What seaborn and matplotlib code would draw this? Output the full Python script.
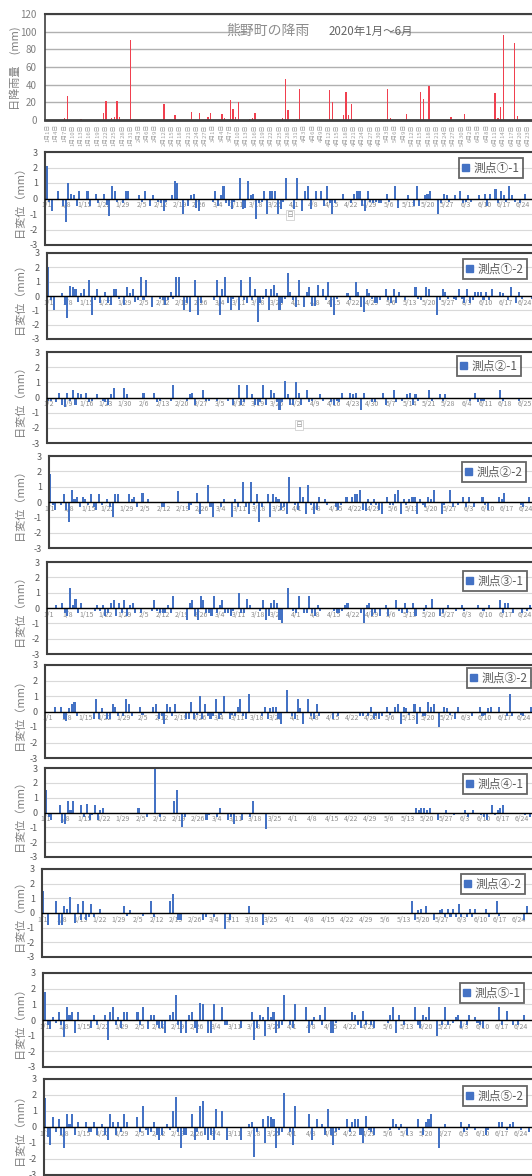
import matplotlib
matplotlib.use('Agg')
import matplotlib.pyplot as plt
import matplotlib.patches as mpatches
from matplotlib.ticker import MultipleLocator
import seaborn as sns
import pandas as pd
import numpy as np

sns.set_style('white')
plt.rcParams['font.family'] = ['Noto Sans CJK JP', 'DejaVu Sans']
plt.rcParams['axes.unicode_minus'] = False

W, H = 532, 1176
N_DAYS = 182

# daily rainfall (day index from 1/1, mm)
rain = [(6, 2), (7, 27), (12, 1), (20, 8), (21, 22), (23, 2), (24, 3), (25, 22), (26, 3),
        (30, 91), (42, 18), (46, 6), (52, 9), (55, 8), (58, 3), (59, 8), (63, 7), (64, 2),
        (66, 23), (67, 13), (68, 3), (69, 20), (73, 1), (74, 2), (75, 8), (85, 2), (86, 46),
        (87, 11), (90, 1), (91, 35), (102, 34), (103, 20), (107, 6), (108, 32), (109, 6),
        (110, 18), (123, 35), (124, 2), (130, 7), (135, 32), (136, 24), (138, 38), (146, 3),
        (151, 7), (162, 31), (163, 2), (164, 15), (165, 96), (169, 87), (170, 4), (176, 11)]

# daily displacement per gauge (day index, mm)
p1_1 = [(0,2.1),(1,-0.2),(2,-0.8),(4,0.5),(6,-0.5),(7,-1.5),(8,1.0),(9,0.3),(10,0.2),(11,-0.5),(12,0.5),
        (15,0.5),(16,-0.5),(18,0.3),(19,-0.3),(21,0.3),(22,-0.4),(23,-1.1),(24,0.8),(25,0.5),(26,-0.2),
        (28,-0.3),(29,0.5),(30,0.5),(32,-0.1),(34,0.2),(35,-0.2),(36,0.5),(38,-0.5),(39,0.2),(41,-0.2),
        (42,-0.3),(43,-0.8),(44,-0.2),(46,0.2),(47,1.1),(48,1.0),(50,-1.0),(52,-0.5),(53,0.2),(54,0.3),
        (55,-0.6),(56,-0.8),(61,-0.2),(62,0.5),(63,-0.5),(64,0.2),(65,0.8),(66,-0.3),(67,-0.5),(68,-0.7),
        (69,-0.2),(71,1.3),(72,-0.7),(73,-0.6),(74,1.1),(75,0.2),(76,0.3),(77,-1.3),(78,-0.3),(79,-0.2),
        (80,0.5),(81,-1.0),(82,0.5),(83,0.5),(84,0.5),(85,-1.0),(86,-0.7),(87,-0.2),(88,1.3),(91,-0.7),
        (92,1.3),(94,-0.8),(95,0.5),(96,0.8),(97,-0.7),(99,0.5),(101,0.5),(102,-0.5),(103,0.8),(104,-0.3),
        (105,-1.0),(106,-0.3),(109,0.3),(112,-0.3),(113,0.3),(114,0.5),(115,0.5),(116,-0.5),(117,-0.8),
        (118,0.5),(119,-0.2),(120,-0.3),(121,-0.2),(122,-0.3),(123,-0.3),(125,0.3),(126,-0.2),(128,0.8),
        (129,-0.6),(132,-0.1),(133,0.2),(135,-0.5),(136,0.8),(137,-0.5),(139,0.2),(140,0.3),(141,0.5),
        (144,-1.0),(145,-0.3),(146,0.3),(147,0.2),(148,-0.2),(150,0.2),(151,-0.1),(152,0.5),(153,-0.3),
        (154,-0.2),(155,0.2),(156,-0.2),(159,0.2),(161,0.3),(162,-0.5),(163,0.3),(165,0.6),(166,-0.3),
        (167,0.5),(168,0.2),(169,-0.2),(170,0.8),(171,0.2),(172,-0.2),(174,-0.3),(176,0.3)]

p1_2 = [(0,2.0),(1,-0.3),(2,-1.0),(5,0.2),(6,-0.6),(7,-1.5),(8,0.7),(9,0.6),(10,0.5),(11,-0.4),(12,0.2),
        (13,0.5),(15,1.1),(16,-1.3),(17,-0.3),(18,0.5),(19,-0.5),(21,0.3),(22,-0.5),(23,-0.6),(24,0.5),
        (25,0.5),(26,-0.2),(28,-0.6),(29,0.6),(30,0.2),(31,0.5),(32,-0.4),(33,-0.3),(34,1.3),(35,-0.3),
        (36,1.1),(38,-0.8),(41,-0.2),(42,-0.3),(43,-0.6),(44,-0.3),(45,0.3),(46,-0.2),(47,1.3),(48,1.3),
        (50,-1.0),(51,-0.5),(52,-1.1),(54,1.1),(55,-1.3),(56,-0.5),(61,-0.3),(62,1.1),(63,-1.3),(64,0.5),
        (65,1.3),(66,-0.5),(67,-1.0),(68,-0.2),(70,-1.0),(71,1.1),(72,-0.3),(73,-0.5),(74,1.3),(75,-0.3),
        (76,0.5),(77,-1.8),(78,-0.5),(79,-0.2),(80,0.5),(81,-1.0),(82,0.5),(83,0.8),(84,0.2),(85,-1.0),
        (86,-0.5),(87,-0.2),(88,1.6),(89,0.3),(90,-0.3),(91,-0.8),(92,1.1),(94,-0.8),(95,0.3),(96,0.6),
        (97,-0.7),(98,-0.7),(99,0.8),(101,0.5),(102,-0.3),(103,1.0),(104,-0.8),(105,-1.3),(106,-0.2),
        (110,0.2),(111,-0.3),(113,1.0),(114,0.3),(115,-0.8),(116,-1.1),(117,0.5),(118,0.2),(119,-0.2),
        (120,-0.5),(121,-0.5),(122,-0.3),(124,0.5),(125,-0.3),(126,-0.5),(127,0.5),(128,-0.5),(129,0.3),
        (131,-0.3),(135,0.6),(136,-0.2),(137,-0.3),(139,0.6),(140,0.5),(143,-1.3),(144,-0.3),(145,0.5),
        (146,0.3),(147,-0.2),(149,-0.2),(150,-0.3),(151,0.5),(152,-0.2),(153,-0.5),(154,0.5),(155,-0.5),
        (156,-0.3),(157,0.3),(158,0.3),(159,0.3),(160,-0.3),(161,0.3),(162,-0.3),(163,0.5),(166,0.3),
        (167,0.2),(169,-0.3),(170,0.6),(172,-0.5),(173,0.3),(174,-0.2),(178,-0.2)]

p2_1 = [(0,-0.2),(1,-0.2),(3,-0.3),(4,0.3),(5,-0.5),(6,-0.6),(7,0.3),(8,-0.2),(9,0.5),(10,-0.5),(11,0.3),
        (12,0.2),(14,0.3),(15,-0.3),(16,-0.2),(18,0.2),(20,-0.2),(21,-0.3),(22,-0.5),(23,0.2),(24,0.6),
        (28,0.6),(29,0.2),(35,0.3),(39,0.3),(40,-0.3),(41,-0.2),(45,-0.2),(46,0.8),(51,-0.2),(52,0.2),
        (53,0.3),(54,-0.5),(57,0.5),(58,-0.2),(59,-0.2),(62,-0.2),(66,-0.2),(68,-0.5),(70,0.8),(71,-0.5),
        (72,-0.3),(73,0.8),(75,0.2),(76,-0.5),(77,-0.5),(78,-0.3),(79,0.8),(80,-0.5),(82,0.5),(83,0.3),
        (84,-0.3),(85,-0.8),(86,-0.3),(87,1.1),(88,0.2),(89,-0.5),(90,-0.5),(91,1.0),(92,0.3),(93,-0.5),
        (95,0.5),(96,-0.3),(97,-0.2),(100,0.2),(101,-0.2),(104,-0.3),(105,-0.5),(106,-0.2),(107,-0.3),
        (108,0.3),(111,0.3),(112,0.2),(113,0.3),(115,-0.8),(116,0.3),(119,-0.3),(120,-0.3),(123,0.3),
        (124,-0.5),(127,0.5),(128,-0.3),(130,-0.2),(132,0.2),(133,0.3),(134,-0.5),(135,0.2),(136,-0.2),
        (140,0.5),(141,-0.2),(144,0.2),(145,-0.2),(146,0.2),(155,-0.2),(157,0.3),(158,-0.3),(159,-0.2),
        (160,-0.2),(166,0.5),(167,-0.2),(173,-0.2)]

p2_2 = [(0,1.8),(1,-0.2),(2,-0.5),(4,-0.2),(5,0.5),(6,-0.5),(7,-1.3),(8,0.8),(9,0.2),(10,0.3),(11,-0.3),
        (12,0.3),(13,0.2),(14,-0.2),(15,0.5),(16,-0.3),(17,-0.5),(18,0.5),(19,-0.2),(21,0.2),(22,-0.3),
        (23,-1.0),(24,0.5),(25,0.5),(29,0.5),(30,0.2),(31,0.3),(32,-0.3),(34,0.6),(36,0.2),(41,-0.3),
        (42,-0.3),(47,0.7),(51,-0.5),(52,-0.2),(54,0.6),(55,-0.8),(58,1.1),(59,-0.3),(60,-1.0),(63,-0.3),
        (64,0.2),(67,-1.0),(68,0.2),(69,-0.3),(71,1.3),(72,-0.3),(73,-0.8),(74,1.3),(75,-0.2),(76,0.5),
        (77,-1.3),(78,-0.3),(80,0.5),(81,-1.0),(82,0.5),(83,0.3),(84,0.2),(85,-0.5),(86,-0.3),(87,-0.8),
        (88,1.6),(90,-0.2),(91,-0.5),(92,1.0),(93,0.3),(94,-0.8),(95,1.1),(96,-0.2),(97,-0.8),(98,-0.5),
        (99,0.3),(101,0.2),(102,-0.2),(105,-0.3),(106,-0.5),(107,-0.2),(109,0.3),(111,0.3),(112,0.5),
        (113,0.5),(114,0.8),(115,-0.5),(116,-0.6),(117,0.2),(118,-0.2),(119,0.2),(120,-0.2),(121,-0.5),
        (122,-0.8),(124,0.3),(125,-0.2),(126,-0.2),(127,0.5),(128,0.8),(129,-0.8),(130,0.2),(131,-0.2),
        (132,0.2),(133,0.3),(134,0.3),(135,-0.8),(136,0.2),(137,-0.2),(138,-0.3),(139,0.3),(140,0.2),
        (141,0.8),(144,-0.8),(145,-0.2),(147,0.8),(148,-0.3),(150,-0.2),(152,0.3),(153,-0.3),(154,0.3),
        (156,-0.3),(159,0.3),(160,-0.2),(161,-0.5),(165,0.3),(166,0.2),(167,0.6),(173,-0.2),(174,-0.3),
        (176,0.3)]

p3_1 = [(3,0.2),(5,0.3),(6,-0.3),(7,-0.5),(8,1.3),(9,0.2),(10,0.6),(11,-0.3),(12,0.3),(17,-0.2),(18,0.2),
        (19,-0.2),(20,0.2),(21,-0.5),(22,-0.3),(23,0.3),(24,0.5),(25,-0.5),(26,0.3),(27,-0.3),(28,0.5),
        (29,-0.5),(30,0.2),(31,0.3),(32,-0.3),(34,-0.3),(38,-0.2),(39,0.5),(40,-0.2),(41,-0.3),(42,-0.3),
        (43,-0.3),(44,0.2),(45,-0.3),(46,0.8),(51,-0.8),(52,0.3),(53,0.5),(54,-0.5),(55,-0.8),(56,0.8),
        (57,0.5),(58,-0.3),(59,-0.3),(60,-0.5),(61,0.8),(62,-0.3),(63,0.2),(64,0.5),(65,-0.3),(66,-0.3),
        (67,-0.5),(68,-0.2),(70,1.0),(71,-0.3),(72,-0.3),(73,0.6),(74,0.2),(78,-0.2),(79,0.5),(80,-0.8),
        (81,-0.5),(82,0.3),(83,0.5),(84,0.3),(85,-0.8),(86,-1.0),(88,1.3),(90,-0.2),(91,-0.3),(92,0.8),
        (94,-0.3),(95,-0.3),(96,0.8),(97,-0.3),(98,-0.5),(99,0.2),(100,-0.2),(105,-0.2),(106,-0.3),
        (107,-0.3),(108,-0.2),(109,0.2),(110,0.3),(115,-0.3),(116,-1.0),(117,0.2),(118,0.3),(119,-0.5),
        (120,-0.3),(122,-0.5),(124,0.2),(125,-0.5),(128,0.5),(129,-0.2),(130,-0.3),(131,0.3),(132,-0.3),
        (134,0.3),(135,-0.5),(138,-0.2),(139,0.2),(141,0.6),(144,-0.5),(145,-0.3),(147,0.2),(150,-0.2),
        (152,0.2),(153,-0.2),(158,0.2),(160,-0.2),(162,0.2),(166,0.5),(167,-0.3),(168,0.3),(169,0.3),
        (171,-0.3),(174,-0.3),(176,-0.2),(177,0.2)]

p3_2 = [(3,0.3),(5,0.3),(6,-0.5),(7,-0.6),(8,0.2),(9,0.5),(10,0.6),(11,-0.3),(17,-0.5),(18,0.8),(19,-0.5),
        (20,0.2),(22,-0.5),(23,-0.5),(24,0.5),(25,0.3),(26,-0.3),(28,-0.3),(29,0.8),(30,0.5),(31,-0.3),
        (34,0.3),(35,-0.2),(39,0.3),(40,0.5),(41,-0.5),(42,-0.3),(43,-0.8),(44,0.5),(45,0.3),(46,-0.3),
        (47,0.5),(51,-0.5),(52,-0.5),(53,0.6),(54,-0.5),(55,-0.2),(56,1.0),(57,-0.5),(58,0.5),(59,-0.3),
        (60,-0.5),(61,-0.3),(62,0.8),(63,-0.5),(64,-0.2),(65,1.0),(67,-0.5),(68,-0.2),(69,-0.3),(70,0.3),
        (71,0.8),(72,-0.3),(73,-0.5),(74,1.1),(79,-0.3),(80,0.3),(81,-0.5),(82,0.2),(83,0.3),(84,0.3),
        (85,-0.5),(86,-0.8),(88,1.4),(90,-0.3),(91,-0.5),(92,0.8),(93,0.2),(94,-0.8),(96,0.8),(97,-0.3),
        (98,-0.5),(99,0.5),(100,-0.3),(105,-0.5),(107,-0.3),(115,-0.3),(116,-0.3),(118,-0.3),(119,0.3),
        (120,-0.5),(121,-0.3),(122,-0.5),(123,-0.3),(125,0.3),(126,-0.2),(128,0.3),(129,0.5),(130,-0.8),
        (131,0.3),(132,0.2),(133,-0.2),(135,0.5),(136,-0.8),(137,0.3),(138,-0.3),(139,-0.3),(140,0.6),
        (141,0.3),(142,0.5),(144,-1.0),(146,0.3),(147,0.2),(148,-0.2),(150,-0.5),(151,0.3),(156,-0.3),
        (159,0.3),(160,-0.3),(161,-0.2),(162,0.2),(163,0.3),(166,0.3),(169,-0.3),(170,1.1),(171,-0.3),
        (174,-0.2),(175,-0.3),(178,0.3)]

p4_1 = [(0,1.5),(1,-0.3),(2,-0.5),(5,0.5),(6,-0.7),(7,-0.8),(8,0.8),(9,0.2),(10,0.8),(13,0.5),(14,-0.3),
        (15,0.6),(16,-0.5),(17,-0.2),(18,0.5),(19,-0.5),(20,0.2),(21,0.3),(34,0.3),(37,-0.3),(40,2.9),
        (42,-0.3),(47,0.8),(48,1.5),(50,-1.0),(51,-0.3),(59,-0.5),(60,-0.2),(63,-0.3),(64,0.3),(67,-0.5),
        (68,-0.3),(69,-0.8),(72,-0.5),(75,-0.3),(76,0.8),(81,-1.1),(136,0.3),(137,0.2),(138,0.3),(139,0.3),
        (140,0.2),(141,0.3),(144,-0.5),(147,0.2),(150,-0.2),(154,0.2),(155,-0.3),(157,0.2),(160,-0.2),
        (161,-0.3),(162,-0.5),(164,0.5),(165,-0.2),(166,0.2),(167,0.3),(168,0.5),(176,-0.2),(178,-0.3),
        (179,0.3)]

p4_2 = [(0,1.5),(2,-0.8),(5,0.8),(6,-0.8),(7,-0.8),(8,0.5),(9,0.3),(10,1.1),(12,-0.7),(13,0.6),(14,-0.5),
        (15,0.8),(16,-0.5),(17,-0.3),(18,0.6),(19,-0.3),(21,0.3),(30,0.5),(31,-0.2),(32,0.2),(37,-0.2),
        (40,0.8),(41,-0.3),(47,0.8),(48,1.3),(50,-0.5),(51,-0.5),(59,-0.5),(60,-0.3),(63,-0.3),(67,-1.1),
        (69,-0.5),(76,0.5),(81,-0.8),(136,0.8),(137,-0.5),(138,0.2),(139,0.3),(141,0.5),(144,-0.5),
        (146,0.2),(147,0.3),(148,-0.3),(149,0.3),(150,-0.3),(151,0.3),(152,-0.3),(153,0.6),(154,-0.3),
        (156,-0.3),(157,0.3),(158,-0.3),(159,0.3),(163,0.3),(164,-0.3),(167,0.8),(168,-0.2),(177,-0.5),
        (178,0.5)]

p5_1 = [(0,1.8),(1,-0.3),(2,-0.6),(3,0.2),(4,-0.2),(5,0.5),(6,-0.3),(7,-1.1),(8,0.8),(9,0.3),(10,0.5),
        (11,-0.8),(12,0.5),(17,-0.5),(18,0.3),(19,-0.3),(22,0.3),(23,-1.3),(24,0.5),(25,0.8),(26,-0.3),
        (27,0.2),(28,-0.5),(29,0.5),(30,0.5),(34,0.5),(35,-0.3),(36,0.8),(38,-0.6),(39,0.3),(40,0.3),
        (41,-0.3),(42,-0.5),(43,-0.5),(44,-0.8),(46,0.3),(47,0.5),(48,1.6),(49,-0.3),(50,-0.8),(52,-0.8),
        (53,0.3),(54,0.5),(55,-0.5),(56,-0.8),(57,1.1),(58,1.0),(60,-0.8),(61,-0.8),(62,1.0),(65,0.8),
        (66,-0.3),(67,-0.3),(72,-0.5),(76,0.5),(77,-1.3),(78,-0.5),(79,0.3),(80,0.2),(81,-1.0),(82,0.8),
        (83,0.2),(84,0.5),(85,-0.8),(86,-0.5),(87,-0.3),(88,1.6),(90,-0.3),(91,-0.5),(92,1.0),(96,0.8),
        (97,-0.8),(98,-0.3),(99,0.2),(101,0.3),(102,-0.3),(103,0.8),(105,-0.8),(106,-0.8),(107,-0.2),
        (113,0.5),(114,0.3),(115,-0.3),(116,-0.5),(117,0.6),(118,-0.3),(120,-0.3),(121,-0.5),(126,-0.2),
        (127,0.3),(128,0.8),(129,-0.8),(130,0.3),(132,-0.3),(136,0.8),(137,-0.3),(138,-0.5),(139,0.3),
        (140,0.2),(141,0.8),(144,-1.0),(146,-0.3),(147,0.8),(148,-0.3),(150,-0.2),(151,0.2),(152,0.3),
        (153,-0.5),(155,-0.3),(156,0.3),(158,0.2),(159,-0.2),(160,-0.3),(161,-0.5),(167,0.8),(168,-0.3),
        (170,0.6),(172,-0.3),(174,-0.3),(176,0.3)]

p5_2 = [(0,1.8),(1,-0.6),(2,-1.1),(3,0.6),(4,-0.3),(5,0.5),(6,-0.5),(7,-1.3),(8,0.8),(9,0.2),(10,0.8),
        (11,-0.5),(12,0.3),(15,0.3),(16,-0.3),(17,-0.3),(18,0.3),(19,-0.5),(21,0.2),(22,-0.5),(23,-0.8),
        (24,0.8),(25,0.3),(26,-0.5),(27,0.3),(28,-0.3),(29,0.8),(30,0.3),(34,0.6),(35,-0.3),(36,1.3),
        (37,-0.2),(38,-0.5),(39,-0.3),(40,0.3),(41,-0.5),(42,-0.8),(43,-0.5),(45,0.2),(46,-0.2),(47,1.0),
        (48,1.9),(49,-0.3),(50,-1.3),(51,-0.5),(52,-0.5),(54,0.8),(55,-0.8),(56,-0.3),(57,1.3),(58,1.6),
        (59,-0.5),(60,-0.8),(61,-0.5),(62,-0.8),(63,1.1),(65,1.0),(67,-0.8),(72,-0.8),(75,0.2),(76,0.3),
        (77,-1.9),(78,-0.3),(80,0.5),(81,-1.0),(82,0.7),(83,0.6),(84,0.5),(85,-1.3),(86,-0.5),(87,-0.3),
        (88,2.1),(90,-0.3),(91,-1.1),(92,1.3),(97,0.8),(98,-0.8),(100,0.5),(102,0.2),(103,-0.5),(104,1.1),
        (105,-0.5),(106,-1.1),(107,-0.3),(108,-0.2),(111,0.5),(112,-0.3),(113,0.3),(114,0.5),(115,0.5),
        (116,-0.5),(117,-1.0),(118,0.7),(119,-0.2),(120,-0.3),(121,-0.5),(127,-0.2),(128,0.5),(129,0.2),
        (130,-0.2),(131,0.2),(133,-0.5),(137,0.5),(139,-0.5),(140,0.3),(141,0.5),(142,0.8),(145,-1.3),
        (147,0.2),(153,0.3),(154,-0.3),(155,-0.2),(156,0.2),(158,-0.2),(162,-0.5),(163,-0.2),(167,0.3),
        (168,0.3),(170,-0.2),(171,0.2),(172,0.3),(175,-0.2),(178,-0.3)]

names = ['測点①-1', '測点①-2', '測点②-1', '測点②-2', '測点③-1',
         '測点③-2', '測点④-1', '測点④-2', '測点⑤-1', '測点⑤-2']
series = [p1_1, p1_2, p2_1, p2_2, p3_1, p3_2, p4_1, p4_2, p5_1, p5_2]
start_dates = ['2020-01-01', '2020-01-01', '2020-01-02', '2020-01-01', '2020-01-01',
               '2020-01-01', '2020-01-01', '2020-01-01', '2020-01-01', '2020-01-01']

# layout in pixels
top_px = [152, 253, 352, 456, 562, 665, 768, 869, 973, 1079]
bot_px = [245, 339, 443, 548, 654, 758, 857, 957, 1067, 1175]
left_px = [45, 47, 47, 49, 47, 45, 45, 42, 43, 44]
d0_px = [46.7, 48.3, 48.3, 50, 48.3, 47.3, 46, 42.5, 45, 45]
leg_right = [523, 527, 521, 526, 527, 531, 527, 525, 524, 527]
leg_top = [158, 259, 356, 462, 571, 668, 774, 874, 983, 1086]
RIGHT_PX = 570
PX_DAY = 2.72

BLUE = '#4472C4'
FRAME = '#404040'
GRAY_TXT = '#595959'

fig = plt.figure(figsize=(W / 100, H / 100), dpi=100)


def px_axes(left, top, right, bottom):
    return fig.add_axes([left / W, 1 - bottom / H, (right - left) / W, (bottom - top) / H])


def to_frame(pairs):
    vals = np.zeros(N_DAYS)
    for d, v in pairs:
        vals[d] = v
    return pd.DataFrame({'day': np.arange(N_DAYS), 'val': vals})


# ---- rainfall chart ----
ax = px_axes(45, 14, RIGHT_PX, 120)
sns.barplot(data=to_frame(rain), x='day', y='val', native_scale=True, color='#f0404f',
            saturation=1, width=0.45, errorbar=None, linewidth=0, ax=ax)
ax.set_xlim((45 - 48) / 2.76, (RIGHT_PX - 48) / 2.76)
ax.set_ylim(0, 120)
ax.set_yticks(range(0, 121, 20))
ax.grid(axis='y', color='#b0b0b0', lw=1.0)
ax.set_axisbelow(True)
rdates = pd.date_range('2020-01-01', periods=N_DAYS)
rt = np.arange(0, N_DAYS - 4, 3)
ax.set_xticks(rt)
ax.set_xticklabels([f'{rdates[i].month}月{rdates[i].day}日' for i in rt], rotation=90)
ax.tick_params(axis='x', labelsize=4.2, labelcolor='#a0a0a0', length=0, pad=3)
ax.tick_params(axis='y', labelsize=7, labelcolor='#808080', length=0, pad=6)
ax.set_xlabel('')
ax.set_ylabel('')
for s in ['top', 'left', 'bottom']:
    ax.spines[s].set_visible(True)
    ax.spines[s].set_color(FRAME)
ax.spines['top'].set_linewidth(1.5)
ax.spines['left'].set_linewidth(1.2)
ax.spines['bottom'].set_linewidth(2)
ax.spines['right'].set_visible(False)
fig.text(15 / W, 1 - 68 / H, '日降雨量　(mm)', rotation=90, ha='center', va='center',
         fontsize=8, color='#7f7f7f')
# white strip behind the title, then the two title parts
fig.text(320 / W, 1 - 31 / H, '　' * 12, ha='center', va='center', fontsize=8,
         bbox=dict(facecolor='white', edgecolor='none', pad=2.5))
fig.text(268 / W, 1 - 31 / H, '熊野町の降雨', ha='center', va='center', fontsize=10,
         color='#8c8c8c')
fig.text(371 / W, 1 - 31 / H, '2020年1月～6月', ha='center', va='center', fontsize=8.3,
         color='#666666')

# ---- displacement panels ----
for i, (name, pairs, start) in enumerate(zip(names, series, start_dates)):
    ax = px_axes(left_px[i], top_px[i], RIGHT_PX, bot_px[i])
    sns.barplot(data=to_frame(pairs), x='day', y='val', native_scale=True, color=BLUE,
                saturation=1, width=0.75, errorbar=None, linewidth=0, ax=ax)
    x0 = (left_px[i] - d0_px[i]) / PX_DAY
    ax.set_xlim(x0, x0 + (RIGHT_PX - left_px[i]) / PX_DAY)
    ax.set_ylim(-3, 3)
    ax.set_yticks(range(-3, 4))
    ax.yaxis.set_minor_locator(MultipleLocator(0.5))
    ax.grid(axis='y', which='major', color='#d9d9d9', lw=0.8)
    ax.set_axisbelow(True)

    pdates = pd.date_range(start, periods=N_DAYS)
    wt = np.arange(0, N_DAYS - 5, 7)
    ax.set_xticks(wt)
    ax.set_xticklabels([f'{pdates[j].month}/{pdates[j].day}' for j in wt])
    ax.tick_params(axis='x', labelsize=5, labelcolor='#8c8c8c', length=0, pad=2)
    ax.tick_params(axis='y', which='major', labelsize=6.5, labelcolor=GRAY_TXT,
                   color=FRAME, length=3, width=0.8, pad=2, direction='out')
    ax.tick_params(axis='y', which='minor', color=FRAME, length=2, width=0.6, direction='out')
    ax.set_xlabel('')
    ax.set_ylabel('')

    ax.spines['bottom'].set_position(('data', 0))
    ax.spines['bottom'].set_color('black')
    ax.spines['bottom'].set_linewidth(1.0)
    ax.spines['bottom'].set_zorder(3)
    for s in ['top', 'left']:
        ax.spines[s].set_visible(True)
        ax.spines[s].set_color(FRAME)
        ax.spines[s].set_linewidth(1.5)
    ax.spines['right'].set_visible(False)
    ax.axhline(-3, color=FRAME, lw=1.5, clip_on=False)

    handle = mpatches.Patch(color=BLUE, label=name)
    leg = ax.legend(handles=[handle], loc='upper right',
                    bbox_to_anchor=(leg_right[i] / W, 1 - leg_top[i] / H),
                    bbox_transform=fig.transFigure, frameon=True, fancybox=False,
                    edgecolor=FRAME, fontsize=8.5, handlelength=0.6, handleheight=0.6,
                    handletextpad=0.35, borderpad=0.3, borderaxespad=0)
    leg.get_frame().set_linewidth(1.3)
    for t in leg.get_texts():
        t.set_color(GRAY_TXT)

    fig.text(20 / W, 1 - (top_px[i] + bot_px[i]) / 2 / H, '日変位（mm）', rotation=90,
             ha='center', va='center', fontsize=8, color='#7f7f7f')

# stray label boxes left in the source sheet
for x, y in [(290, 215), (299, 425)]:
    fig.text(x / W, 1 - y / H, '日', ha='center', va='center', fontsize=5, color='#a0a0a0',
             bbox=dict(facecolor='white', edgecolor='#c8c8c8', lw=0.5, pad=0.5))

fig.savefig('out.png', dpi=100)
